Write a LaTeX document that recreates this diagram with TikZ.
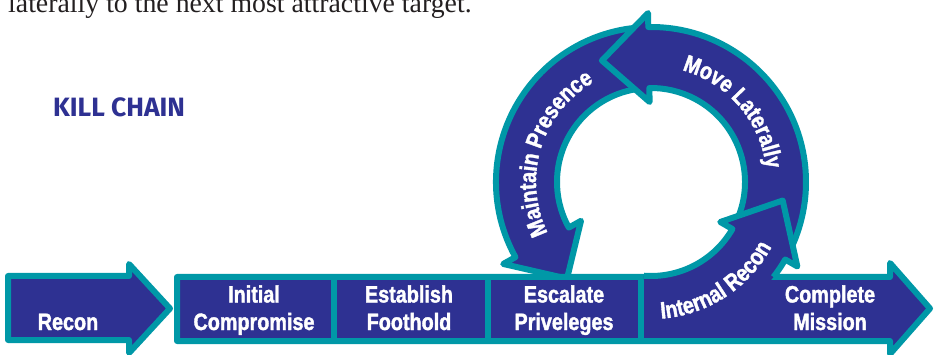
\documentclass[tikz,border=0pt]{standalone}
\usepackage{fontspec}
\setmainfont{Liberation Serif}
\newfontfamily\stepfont[FakeStretch=0.835,FakeBold=1.6,UprightFont={* Bold}]{Liberation Sans}
\newfontfamily\headfont{Fira Sans}
\usetikzlibrary{decorations.text}
\definecolor{chainblue}{RGB}{46,49,146}
\definecolor{chainteal}{RGB}{0,152,167}
\definecolor{bodytext}{RGB}{35,31,32}
\newcommand\steplabel{\stepfont\fontsize{23.7}{27.5}\selectfont}
\newcommand\ringlabel{\steplabel\color{white}}

\begin{document}
\begin{tikzpicture}[x=1pt,y=1pt,
  stage/.style={fill=chainblue, draw=chainteal, line width=6pt, line join=round},
  rim/.style={draw=chainteal, line width=6pt, line join=round},
  stagetext/.style={text=white, font=\steplabel, align=center, inner sep=0pt, anchor=base},
  ringtext/.style={decorate, decoration={text along path, text align=center, text={|\ringlabel|#1}}},
  ]
\useasboundingbox (0,0) rectangle (934,-355);
\clip (0,0) rectangle (934,-355);

% running text above the figure
\node[anchor=base west, inner sep=0pt, text=bodytext, font=\fontsize{27.8}{30}\selectfont] (para) at (8,-12.7) {laterally to the next most attractive target.};

% heading
\node[anchor=base west, inner sep=0pt, text=chainblue, font=\headfont\bfseries\fontsize{26.5}{28}\selectfont] (title) at (53,-117) {KILL CHAIN};

% loop of three curved arrows around (651,-182)
\begin{scope}[shift={(651,-182)}]
  % Maintain Presence
  \path[stage] (93:94) arc[start angle=93,end angle=209,radius=94] -- (209:80) -- (229:128) -- (209:169) -- (209:155) arc[start angle=209,end angle=93,radius=155] -- cycle;
  % Move Laterally
  \path[stage] (-28:94) arc[start angle=-28,end angle=91,radius=94] -- (91:80) -- (112:131) -- (91:169) -- (91:155) arc[start angle=91,end angle=-28,radius=155] -- cycle;
\end{scope}

% Recon arrow
\path[stage] (8,-276) -- (129,-276) -- (129,-264) -- (170,-308.5) -- (129,-353) -- (129,-340) -- (8,-340) -- cycle;

% main strip ending in the Complete Mission arrow
\path[stage] (177,-277) -- (890,-277) -- (890,-263) -- (930,-308.5) -- (890,-354) -- (890,-341) -- (177,-341) -- cycle;
\foreach \x in {333.5,488,641}
  \draw[chainteal, line width=6pt] (\x,-277) -- (\x,-341);

% Internal Recon rising out of the strip
\begin{scope}[shift={(651,-182)}]
  \fill[chainblue] (-7,-99) -- (-94.3:94) arc[start angle=-94.3,end angle=-30,radius=94] -- (-30:80) -- (-8:133) -- (-30:169) -- (-30:155) arc[start angle=-30,end angle=-40,radius=155] -- cycle;
  \path[rim] (-94.3:94) arc[start angle=-94.3,end angle=-30,radius=94] -- (-30:80) -- (-8:133) -- (-30:169) -- (-30:155) arc[start angle=-30,end angle=-37.8,radius=155];

  % curved labels
  \path[ringtext=Move Laterally] (100.5:116) arc[start angle=100.5,end angle=-19.5,radius=116];
  \path[ringtext=Maintain Presence] (223:115) arc[start angle=223,end angle=103,radius=115];
  \path[ringtext=Internal Recon] (-117:137) arc[start angle=-117,end angle=3,radius=137];
\end{scope}

% stage labels (anchored on the baseline of the last line)
\node[stagetext] (recon) at (68,-330) {Recon};
\node[stagetext] (initial) at (254,-330) {Initial\\Compromise};
\node[stagetext] (foothold) at (409,-330) {Establish\\Foothold};
\node[stagetext] (escalate) at (564,-330) {Escalate\\Priveleges};
\node[stagetext] (mission) at (830,-330) {Complete\\Mission};
\end{tikzpicture}
\end{document}
